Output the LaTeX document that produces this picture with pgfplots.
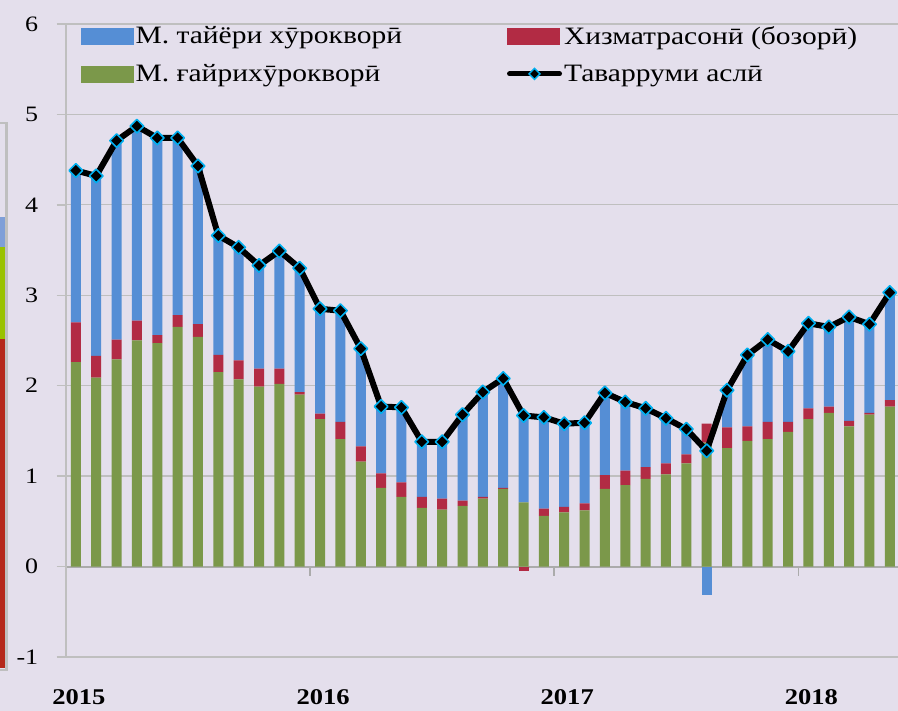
\documentclass[border=0pt]{standalone}
\usepackage{fontspec}
\setmainfont{Liberation Serif}[FakeStretch=1.18]
\usepackage{pgfplots}
\usepackage{pgfplotstable}
\pgfplotsset{compat=1.18}

\definecolor{bgc}{HTML}{E4DFEC}
\definecolor{gridc}{HTML}{BFBFBF}
\definecolor{zeroc}{HTML}{ABABAB}
\definecolor{blueC}{HTML}{558ED5}
\definecolor{redC}{HTML}{B22B44}
\definecolor{greenC}{HTML}{7B984A}
\definecolor{cyanC}{HTML}{00B0F0}
\definecolor{artB}{HTML}{7F9FD8}
\definecolor{artG}{HTML}{99C200}
\definecolor{artR}{HTML}{B5281A}

% month index, goods non-food (g), services (r), food (b), headline (t)
\pgfplotstableread{
i  g    r    b    t
0  2.26 0.44 1.68 4.38
1  2.09 0.24 1.99 4.32
2  2.29 0.22 2.20 4.71
3  2.50 0.22 2.15 4.87
4  2.47 0.09 2.18 4.74
5  2.65 0.13 1.96 4.74
6  2.54 0.14 1.75 4.43
7  2.15 0.19 1.32 3.66
8  2.07 0.21 1.25 3.53
9  1.99 0.20 1.14 3.33
10 2.02 0.17 1.30 3.49
11 1.90 0.03 1.37 3.30
12 1.63 0.06 1.16 2.85
13 1.41 0.19 1.23 2.83
14 1.16 0.17 1.08 2.41
15 0.87 0.16 0.74 1.77
16 0.77 0.16 0.83 1.76
17 0.65 0.12 0.61 1.38
18 0.63 0.12 0.63 1.38
19 0.67 0.06 0.95 1.68
20 0.75 0.02 1.16 1.93
21 0.86 0.01 1.21 2.08
22 0.71 0.00 0.96 1.67
23 0.56 0.08 1.01 1.65
24 0.60 0.06 0.92 1.58
25 0.62 0.08 0.89 1.59
26 0.86 0.15 0.91 1.92
27 0.90 0.16 0.76 1.82
28 0.97 0.13 0.65 1.75
29 1.02 0.12 0.50 1.64
30 1.14 0.10 0.28 1.52
31 1.37 0.21 0.00 1.28
32 1.31 0.23 0.41 1.95
33 1.39 0.16 0.79 2.34
34 1.41 0.19 0.91 2.51
35 1.49 0.11 0.78 2.38
36 1.63 0.12 0.94 2.69
37 1.70 0.07 0.88 2.65
38 1.55 0.06 1.15 2.76
39 1.68 0.02 0.98 2.68
40 1.77 0.07 1.19 3.03
}\data

\pgfplotsset{
  common/.style={
    at={(65.7pt,54pt)}, anchor=south west,
    scale only axis, width=834.3pt, height=633pt,
    xmin=-0.5, xmax=40.5, ymin=-1, ymax=6,
  },
}

\begin{document}
\begin{tikzpicture}[x=1pt,y=1pt]
\fill[bgc] (0,0) rectangle (898,711);
\path[use as bounding box] (0,0) rectangle (898,711);

% sliver of the neighbouring chart at the left edge
\fill[artR] (0,43) rectangle (5,372);
\fill[artG] (0,372) rectangle (5,464);
\fill[artB] (0,464) rectangle (5,494);
\draw[gridc, line width=2.5pt] (0,588) -- (6.5,588) -- (6.5,41) -- (0,41);

\begin{axis}[common, clip=false,
  ybar stacked, bar width=10pt,
  axis line style={draw=none},
  ymajorgrids, grid style={draw=gridc, line width=1.3pt},
  ytick={-1,0,...,6}, ytick pos=left,
  tick align=outside, major tick length=9pt,
  y tick style={draw=gridc, line width=1.5pt},
  x tick style={draw=none},
  xtick={0,12,24,36}, xticklabels={2015,2016,2017,2018},
  /pgf/number format/assume math mode=true,
  yticklabel style={font=\fontsize{22}{24}\selectfont, xshift=-15pt},
  xticklabel style={font=\fontsize{22.5}{25}\selectfont\bfseries, xshift=3pt, yshift=-20pt},
]
\addplot[fill=greenC, draw=none] table[x=i, y=g] {\data};
\addplot[fill=redC, draw=none] table[x=i, y=r] {\data};
\addplot[fill=blueC, draw=none] table[x=i, y=b] {\data};
\draw[gridc, line width=2.2pt] (axis cs:-0.5,6) -- (axis cs:-0.5,-1) -- (axis cs:40.5,-1);
\draw[gridc, line width=2.2pt] (axis cs:-0.5,6) -- (axis cs:40.5,6);
\draw[zeroc, line width=2pt] (axis cs:-0.5,0) -- (axis cs:40.5,0);
\pgfplotsinvokeforeach{-0.5,11.5,23.5,35.5}{
  \draw[zeroc, line width=1.5pt] (axis cs:#1,0) -- ++(0pt,-9pt);
}
\end{axis}

\begin{axis}[common, hide axis,
  legend columns=2, legend cell align=left,
  legend style={at={(rel axis cs:0.0183,1.0)}, anchor=north west,
    draw=none, fill=none, font=\fontsize{25}{27}\selectfont,
    row sep=15pt, inner sep=0pt,
    /tikz/every even column/.append style={column sep=103pt}},
]
\addlegendimage{legend image code/.code={\fill[blueC] (0pt,-8pt) rectangle (52pt,8pt);}}
\addlegendentry{М. тайёри хӯрокворӣ}
\addlegendimage{legend image code/.code={\fill[redC] (0pt,-8pt) rectangle (52pt,8pt);}}
\addlegendentry{Хизматрасонӣ (бозорӣ)}
\addlegendimage{legend image code/.code={\fill[greenC] (0pt,-8pt) rectangle (52pt,8pt);}}
\addlegendentry{М. ғайрихӯрокворӣ}
\addlegendimage{legend image code/.code={
  \draw[black, line width=5pt, line cap=round] (2pt,0pt) -- (52pt,0pt);
  \draw[cyanC, fill=black, line width=1.5pt] (27pt,5.5pt) -- (32.5pt,0pt) -- (27pt,-5.5pt) -- (21.5pt,0pt) -- cycle;}}
\addlegendentry{Таварруми аслӣ}

\addplot[ybar, bar width=10pt, bar shift=0pt, fill=redC, draw=none, forget plot]
  coordinates {(22,-0.045)};
\addplot[ybar, bar width=10pt, bar shift=0pt, fill=blueC, draw=none, forget plot]
  coordinates {(31,-0.31)};
\addplot[black, line width=6pt, line join=round, forget plot,
  mark=square*, mark size=4.8pt,
  mark options={rotate=45, draw=cyanC, fill=black, line width=1.6pt}]
  table[x=i, y=t] {\data};
\end{axis}
\end{tikzpicture}
\end{document}
